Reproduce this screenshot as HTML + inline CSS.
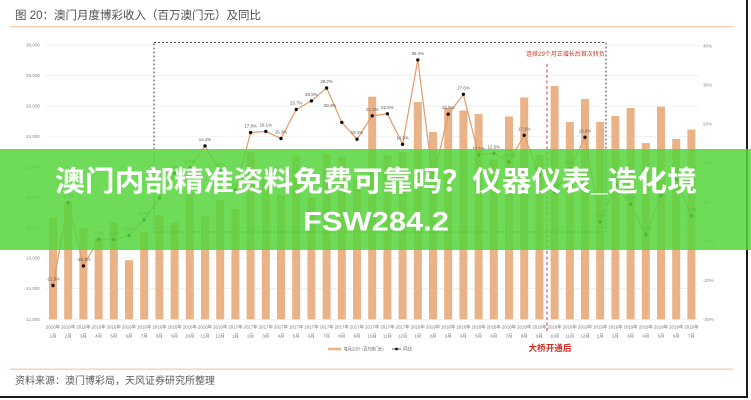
<!DOCTYPE html>
<html><head><meta charset="utf-8"><style>
html,body{margin:0;padding:0;background:#fff;}
svg{display:block;}
text{font-family:"Liberation Sans","Noto Sans CJK SC",sans-serif;}
</style></head><body>
<svg width="751" height="400" viewBox="0 0 751 400" xmlns="http://www.w3.org/2000/svg">
<rect x="0" y="0" width="751" height="400" fill="#fff"/>
<!-- title -->
<text x="15" y="19" font-size="11.5" fill="#505050">图 20：澳门月度博彩收入（百万澳门元）及同比</text>
<rect x="10" y="26" width="723" height="1.5" fill="#f3d2b3"/>
<!-- gridlines -->
<g stroke="#ececec" stroke-width="0.7">
<line x1="46" y1="45" x2="698" y2="45"/>
<line x1="46" y1="75.4" x2="698" y2="75.4"/>
<line x1="46" y1="105.9" x2="698" y2="105.9"/>
<line x1="46" y1="136.3" x2="698" y2="136.3"/>
<line x1="46" y1="166.8" x2="698" y2="166.8"/>
<line x1="46" y1="197.2" x2="698" y2="197.2"/>
<line x1="46" y1="227.7" x2="698" y2="227.7"/>
<line x1="46" y1="258.1" x2="698" y2="258.1"/>
<line x1="46" y1="288.6" x2="698" y2="288.6"/>
<line x1="46" y1="319.3" x2="698" y2="319.3"/>
</g>
<!-- left axis -->
<g font-size="4.6" fill="#888" text-anchor="end">
<text x="40" y="46.6">30,000</text>
<text x="40" y="77">28,000</text>
<text x="40" y="107.5">26,000</text>
<text x="40" y="137.9">24,000</text>
<text x="40" y="168.4">22,000</text>
<text x="40" y="198.8">20,000</text>
<text x="40" y="229.3">18,000</text>
<text x="40" y="259.7">16,000</text>
<text x="40" y="290.2">14,000</text>
<text x="40" y="320.9">12,000</text>
</g>
<!-- right axis -->
<g font-size="4.6" fill="#888">
<text x="703" y="47.4">40%</text>
<text x="703" y="86.5">30%</text>
<text x="703" y="125.6">20%</text>
<text x="703" y="164.7">10%</text>
<text x="703" y="203.8">0%</text>
<text x="703" y="242.9">-10%</text>
<text x="703" y="282">-20%</text>
<text x="703" y="320.9">-30%</text>
</g>
<!-- bars -->
<g fill="#eab287">
<rect x="49" y="217.8" width="8" height="101.5"/>
<rect x="64.2" y="202" width="8" height="117.3"/>
<rect x="79.4" y="228.3" width="8" height="91"/>
<rect x="94.6" y="238" width="8" height="81.3"/>
<rect x="109.8" y="222.2" width="8" height="97.1"/>
<rect x="125" y="260.2" width="8" height="59.1"/>
<rect x="140.2" y="232" width="8" height="87.3"/>
<rect x="155.4" y="215.2" width="8" height="104.1"/>
<rect x="170.6" y="222.6" width="8" height="96.7"/>
<rect x="185.8" y="192" width="8" height="127.3"/>
<rect x="201" y="215.9" width="8" height="103.4"/>
<rect x="216.2" y="200.2" width="8" height="119.1"/>
<rect x="231.4" y="208.9" width="8" height="110.4"/>
<rect x="246.6" y="152" width="8" height="167.3"/>
<rect x="261.8" y="179.4" width="8" height="139.9"/>
<rect x="277" y="194.9" width="8" height="124.4"/>
<rect x="292.2" y="155.6" width="8" height="163.7"/>
<rect x="307.4" y="197.7" width="8" height="121.6"/>
<rect x="322.6" y="154.1" width="8" height="165.2"/>
<rect x="337.8" y="156.8" width="8" height="162.5"/>
<rect x="353" y="177.5" width="8" height="141.8"/>
<rect x="368.2" y="96.7" width="8" height="222.6"/>
<rect x="383.4" y="155.5" width="8" height="163.8"/>
<rect x="398.6" y="152.2" width="8" height="167.1"/>
<rect x="413.8" y="102" width="8" height="217.3"/>
<rect x="429" y="132" width="8" height="187.3"/>
<rect x="444.2" y="108" width="8" height="211.3"/>
<rect x="459.4" y="110.5" width="8" height="208.8"/>
<rect x="474.6" y="114" width="8" height="205.3"/>
<rect x="489.8" y="159.6" width="8" height="159.7"/>
<rect x="505" y="116.5" width="8" height="202.8"/>
<rect x="520.2" y="97.5" width="8" height="221.8"/>
<rect x="535.4" y="155.1" width="8" height="164.2"/>
<rect x="550.6" y="86" width="8" height="233.3"/>
<rect x="565.8" y="122" width="8" height="197.3"/>
<rect x="581" y="99" width="8" height="220.3"/>
<rect x="596.2" y="122" width="8" height="197.3"/>
<rect x="611.4" y="116" width="8" height="203.3"/>
<rect x="626.6" y="108" width="8" height="211.3"/>
<rect x="641.8" y="143" width="8" height="176.3"/>
<rect x="657" y="106.7" width="8" height="212.6"/>
<rect x="672.2" y="139" width="8" height="180.3"/>
<rect x="687.4" y="129.5" width="8" height="189.8"/>
</g>
<!-- dotted box -->
<rect x="154" y="42.5" width="452" height="189.5" fill="none" stroke="#555" stroke-width="1.1" stroke-dasharray="2 2"/>
<!-- magenta dashed line -->
<line x1="547" y1="64" x2="547" y2="331" stroke="#d65a7c" stroke-width="1.2" stroke-dasharray="3 2.5"/>
<text x="565.5" y="56.2" font-size="6" fill="#c0392b" text-anchor="middle">连续29个月正增长后首次转负</text>
<!-- yoy line -->
<polyline fill="none" stroke="#e49a6a" stroke-width="1.2" points="53,285.5 68.2,202.6 83.4,265.9 98.6,239.3 113.8,239.7 129,235.4 144.2,219.8 159.4,197.9 174.6,173.3 189.8,167.8 205,145.9 220.2,170.9 235.4,190.1 250.6,132.6 265.8,131.4 281,138.5 296.2,109.5 311.4,100.9 326.6,88 341.8,122.4 357,139.2 372.2,115.8 387.4,113.8 402.6,144.3 417.8,59.9 433,179.9 448.2,114.2 463.4,94.3 478.6,154.9 493.8,153.3 509,161.9 524.2,135.3 539.4,175.2 554.6,192 569.8,169 585,137.3 600.2,221.8 615.4,185 630.6,204.2 645.8,234.7 661,195.6 676.2,179.5 691.4,215.9"/>
<g fill="#111">
<circle cx="53" cy="285.5" r="1.7"/><circle cx="68.2" cy="202.6" r="1.7"/><circle cx="83.4" cy="265.9" r="1.7"/><circle cx="98.6" cy="239.3" r="1.7"/><circle cx="113.8" cy="239.7" r="1.7"/><circle cx="129" cy="235.4" r="1.7"/><circle cx="144.2" cy="219.8" r="1.7"/><circle cx="159.4" cy="197.9" r="1.7"/><circle cx="174.6" cy="173.3" r="1.7"/><circle cx="189.8" cy="167.8" r="1.7"/><circle cx="205" cy="145.9" r="1.7"/><circle cx="220.2" cy="170.9" r="1.7"/><circle cx="235.4" cy="190.1" r="1.7"/><circle cx="250.6" cy="132.6" r="1.7"/><circle cx="265.8" cy="131.4" r="1.7"/><circle cx="281" cy="138.5" r="1.7"/><circle cx="296.2" cy="109.5" r="1.7"/><circle cx="311.4" cy="100.9" r="1.7"/><circle cx="326.6" cy="88" r="1.7"/><circle cx="341.8" cy="122.4" r="1.7"/><circle cx="357" cy="139.2" r="1.7"/><circle cx="372.2" cy="115.8" r="1.7"/><circle cx="387.4" cy="113.8" r="1.7"/><circle cx="402.6" cy="144.3" r="1.7"/><circle cx="417.8" cy="59.9" r="1.7"/><circle cx="433" cy="179.9" r="1.7"/><circle cx="448.2" cy="114.2" r="1.7"/><circle cx="463.4" cy="94.3" r="1.7"/><circle cx="478.6" cy="154.9" r="1.7"/><circle cx="493.8" cy="153.3" r="1.7"/><circle cx="509" cy="161.9" r="1.7"/><circle cx="524.2" cy="135.3" r="1.7"/><circle cx="539.4" cy="175.2" r="1.7"/><circle cx="554.6" cy="192" r="1.7"/><circle cx="569.8" cy="169" r="1.7"/><circle cx="585" cy="137.3" r="1.7"/><circle cx="600.2" cy="221.8" r="1.7"/><circle cx="615.4" cy="185" r="1.7"/><circle cx="630.6" cy="204.2" r="1.7"/><circle cx="645.8" cy="234.7" r="1.7"/><circle cx="661" cy="195.6" r="1.7"/><circle cx="676.2" cy="179.5" r="1.7"/><circle cx="691.4" cy="215.9" r="1.7"/>
</g>
<!-- data labels -->
<g font-size="4.4" fill="#555" text-anchor="middle">
<text x="53" y="280.5">-21.3%</text><text x="68.2" y="197.6">-0.1%</text><text x="83.4" y="260.9">-16.3%</text><text x="98.6" y="234.3">-9.5%</text><text x="113.8" y="234.7">-9.6%</text><text x="129" y="230.4">-8.5%</text><text x="144.2" y="214.8">-4.5%</text><text x="159.4" y="192.9">1.1%</text><text x="174.6" y="168.3">7.4%</text><text x="189.8" y="162.8">8.8%</text><text x="205" y="140.9">14.4%</text><text x="220.2" y="165.9">8.0%</text><text x="235.4" y="185.1">3.1%</text><text x="250.6" y="127.6">17.8%</text><text x="265.8" y="126.4">18.1%</text><text x="281" y="133.5">16.3%</text><text x="296.2" y="104.5">23.7%</text><text x="311.4" y="95.9">25.9%</text><text x="326.6" y="83">29.2%</text><text x="330" y="107">20.4%</text><text x="357" y="134.2">16.1%</text><text x="372.2" y="110.8">22.1%</text><text x="387.4" y="108.8">22.6%</text><text x="402.6" y="139.3">14.8%</text><text x="417.8" y="54.9">36.4%</text><text x="433" y="174.9">5.7%</text><text x="448.2" y="109.2">22.5%</text><text x="463.4" y="89.3">27.6%</text><text x="478.6" y="149.9">12.1%</text><text x="493.8" y="148.3">12.5%</text><text x="509" y="156.9">10.3%</text><text x="524.2" y="130.3">17.1%</text><text x="539.4" y="170.2">6.9%</text><text x="554.6" y="187">2.6%</text><text x="569.8" y="164">8.5%</text><text x="585" y="132.3">16.6%</text><text x="600.2" y="216.8">-5.0%</text><text x="615.4" y="180">4.4%</text><text x="630.6" y="199.2">-0.5%</text><text x="645.8" y="229.7">-8.3%</text><text x="661" y="190.6">1.7%</text><text x="676.2" y="174.5">5.8%</text><text x="691.4" y="210.9">-3.5%</text>
</g>
<!-- x axis labels -->
<g font-size="4.4" fill="#777" text-anchor="middle">
<text x="53" y="328.5">2016年</text><text x="68.2" y="328.5">2016年</text><text x="83.4" y="328.5">2016年</text><text x="98.6" y="328.5">2016年</text><text x="113.8" y="328.5">2016年</text><text x="129" y="328.5">2016年</text><text x="144.2" y="328.5">2016年</text><text x="159.4" y="328.5">2016年</text><text x="174.6" y="328.5">2016年</text><text x="189.8" y="328.5">2016年</text><text x="205" y="328.5">2016年</text><text x="220.2" y="328.5">2016年</text>
<text x="235.4" y="328.5">2017年</text><text x="250.6" y="328.5">2017年</text><text x="265.8" y="328.5">2017年</text><text x="281" y="328.5">2017年</text><text x="296.2" y="328.5">2017年</text><text x="311.4" y="328.5">2017年</text><text x="326.6" y="328.5">2017年</text><text x="341.8" y="328.5">2017年</text><text x="357" y="328.5">2017年</text><text x="372.2" y="328.5">2017年</text><text x="387.4" y="328.5">2017年</text><text x="402.6" y="328.5">2017年</text>
<text x="417.8" y="328.5">2018年</text><text x="433" y="328.5">2018年</text><text x="448.2" y="328.5">2018年</text><text x="463.4" y="328.5">2018年</text><text x="478.6" y="328.5">2018年</text><text x="493.8" y="328.5">2018年</text><text x="509" y="328.5">2018年</text><text x="524.2" y="328.5">2018年</text><text x="539.4" y="328.5">2018年</text><text x="554.6" y="328.5">2018年</text><text x="569.8" y="328.5">2018年</text><text x="585" y="328.5">2018年</text>
<text x="600.2" y="328.5">2019年</text><text x="615.4" y="328.5">2019年</text><text x="630.6" y="328.5">2019年</text><text x="645.8" y="328.5">2019年</text><text x="661" y="328.5">2019年</text><text x="676.2" y="328.5">2019年</text><text x="691.4" y="328.5">2019年</text>
<text x="53" y="337.5">1月</text><text x="68.2" y="337.5">2月</text><text x="83.4" y="337.5">3月</text><text x="98.6" y="337.5">4月</text><text x="113.8" y="337.5">5月</text><text x="129" y="337.5">6月</text><text x="144.2" y="337.5">7月</text><text x="159.4" y="337.5">8月</text><text x="174.6" y="337.5">9月</text><text x="189.8" y="337.5">10月</text><text x="205" y="337.5">11月</text><text x="220.2" y="337.5">12月</text>
<text x="235.4" y="337.5">1月</text><text x="250.6" y="337.5">2月</text><text x="265.8" y="337.5">3月</text><text x="281" y="337.5">4月</text><text x="296.2" y="337.5">5月</text><text x="311.4" y="337.5">6月</text><text x="326.6" y="337.5">7月</text><text x="341.8" y="337.5">8月</text><text x="357" y="337.5">9月</text><text x="372.2" y="337.5">10月</text><text x="387.4" y="337.5">11月</text><text x="402.6" y="337.5">12月</text>
<text x="417.8" y="337.5">1月</text><text x="433" y="337.5">2月</text><text x="448.2" y="337.5">3月</text><text x="463.4" y="337.5">4月</text><text x="478.6" y="337.5">5月</text><text x="493.8" y="337.5">6月</text><text x="509" y="337.5">7月</text><text x="524.2" y="337.5">8月</text><text x="539.4" y="337.5">9月</text><text x="554.6" y="337.5">10月</text><text x="569.8" y="337.5">11月</text><text x="585" y="337.5">12月</text>
<text x="600.2" y="337.5">1月</text><text x="615.4" y="337.5">2月</text><text x="630.6" y="337.5">3月</text><text x="645.8" y="337.5">4月</text><text x="661" y="337.5">5月</text><text x="676.2" y="337.5">6月</text><text x="691.4" y="337.5">7月</text>
</g>
<!-- legend -->
<line x1="328" y1="349" x2="341" y2="349" stroke="#eab287" stroke-width="2.5"/>
<text x="344" y="350.6" font-size="4.6" fill="#666" textLength="42" lengthAdjust="spacingAndGlyphs">每月GGR（百万澳门元）</text>
<line x1="392" y1="349" x2="401" y2="349" stroke="#333" stroke-width="0.8"/>
<circle cx="396.5" cy="349" r="1.4" fill="#111"/>
<text x="403" y="350.6" font-size="4.6" fill="#666">同比</text>
<text x="550" y="351" font-size="8.6" font-weight="bold" fill="#d22b1f" text-anchor="middle" font-family="'Noto Sans CJK SC',sans-serif">大桥开通后</text>
<!-- footer -->
<rect x="10" y="368.5" width="723" height="1.4" fill="#f3d2b3"/>
<text x="15" y="384" font-size="10" fill="#5a5a5a">资料来源：澳门博彩局，天风证券研究所整理</text>
<!-- frame -->
<rect x="746" y="0" width="2" height="398" fill="#1c1c1c"/>
<rect x="0" y="396" width="748" height="2" fill="#1c1c1c"/>
<!-- green banner -->
<rect x="0" y="149" width="751" height="101" fill="rgba(85,213,60,0.85)"/>
<text x="376" y="191" font-size="28.5" font-weight="bold" fill="#fff" text-anchor="middle" textLength="642" lengthAdjust="spacingAndGlyphs" font-family="'Noto Sans CJK SC','Liberation Sans',sans-serif">澳门内部精准资料免费可靠吗？仪器仪表_造化境</text>
<text x="376" y="230.7" font-size="26.5" font-weight="bold" fill="#fff" text-anchor="middle" textLength="146" lengthAdjust="spacingAndGlyphs" font-family="'Noto Sans CJK SC','Liberation Sans',sans-serif">FSW284.2</text>
</svg>
</body></html>
